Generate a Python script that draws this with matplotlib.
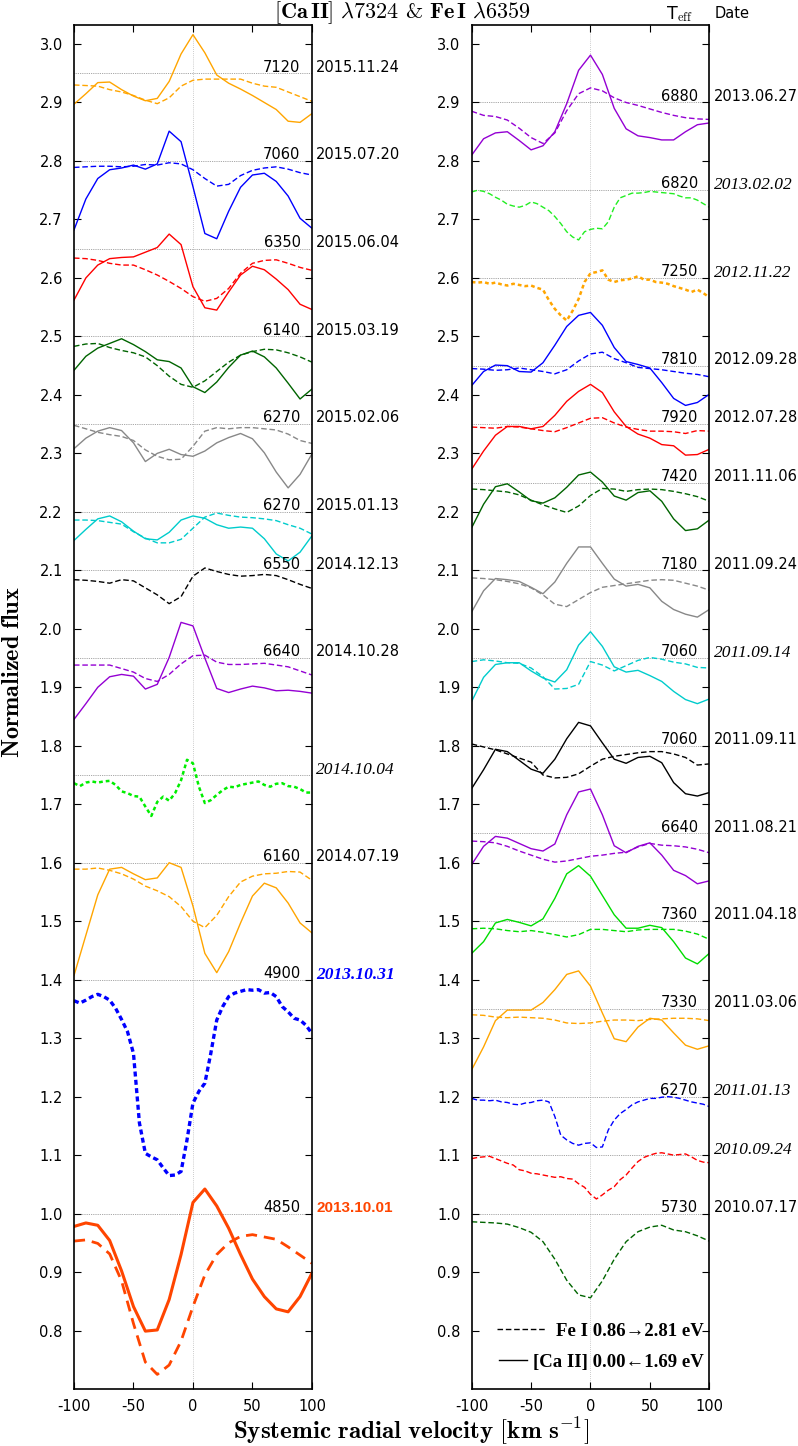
import matplotlib
matplotlib.use('Agg')
import matplotlib.pyplot as plt
from matplotlib.lines import Line2D

plt.rcParams['font.family'] = ['DejaVu Sans']
plt.rcParams['mathtext.fontset'] = 'cm'

# velocity grids (km/s)
v = [-100, -90, -80, -70, -60, -50, -40, -30, -20, -10, 0,
     10, 20, 30, 40, 50, 60, 70, 80, 90, 100]
v5 = [-100, -95, -90, -85, -80, -75, -70, -65, -60, -55, -50, -45, -40, -35,
      -30, -25, -20, -15, -10, -5, 0, 5, 10, 15, 20, 25, 30, 35, 40, 45, 50,
      55, 60, 65, 70, 75, 80, 85, 90, 95, 100]

# ---- left column ----
ca_151124 = [2.897, 2.915, 2.934, 2.935, 2.922, 2.911, 2.903, 2.907, 2.936, 2.983, 3.016,
             2.985, 2.947, 2.933, 2.923, 2.912, 2.900, 2.888, 2.868, 2.866, 2.881]
fe_151124 = [2.930, 2.929, 2.928, 2.922, 2.918, 2.912, 2.904, 2.898, 2.908, 2.928, 2.938,
             2.940, 2.940, 2.940, 2.940, 2.933, 2.928, 2.926, 2.918, 2.910, 2.902]
ca_150720 = [2.682, 2.735, 2.770, 2.785, 2.788, 2.793, 2.786, 2.795, 2.851, 2.833, 2.756,
             2.676, 2.667, 2.714, 2.755, 2.776, 2.779, 2.765, 2.740, 2.702, 2.685]
fe_150720 = [2.789, 2.790, 2.791, 2.791, 2.790, 2.791, 2.794, 2.793, 2.797, 2.795, 2.785,
             2.770, 2.757, 2.760, 2.775, 2.784, 2.788, 2.790, 2.786, 2.780, 2.776]
ca_150604 = [2.562, 2.600, 2.622, 2.633, 2.635, 2.636, 2.644, 2.652, 2.675, 2.657, 2.585,
             2.549, 2.545, 2.576, 2.605, 2.620, 2.614, 2.598, 2.580, 2.555, 2.546]
fe_150604 = [2.634, 2.633, 2.630, 2.625, 2.622, 2.622, 2.614, 2.605, 2.594, 2.582, 2.568,
             2.560, 2.565, 2.582, 2.608, 2.625, 2.630, 2.631, 2.625, 2.618, 2.613]
ca_150319 = [2.442, 2.466, 2.480, 2.488, 2.496, 2.486, 2.474, 2.460, 2.457, 2.446, 2.414,
             2.404, 2.422, 2.447, 2.468, 2.475, 2.465, 2.446, 2.420, 2.393, 2.410]
fe_150319 = [2.483, 2.487, 2.488, 2.481, 2.476, 2.472, 2.465, 2.450, 2.432, 2.418, 2.413,
             2.424, 2.440, 2.456, 2.468, 2.474, 2.478, 2.477, 2.472, 2.465, 2.456]
ca_150206 = [2.308, 2.326, 2.338, 2.344, 2.339, 2.318, 2.286, 2.300, 2.307, 2.298, 2.295,
             2.304, 2.318, 2.327, 2.334, 2.325, 2.301, 2.268, 2.241, 2.264, 2.299]
fe_150206 = [2.348, 2.342, 2.336, 2.332, 2.329, 2.322, 2.306, 2.295, 2.289, 2.290, 2.312,
             2.338, 2.344, 2.342, 2.344, 2.344, 2.342, 2.340, 2.333, 2.322, 2.317]
ca_150113 = [2.151, 2.170, 2.188, 2.193, 2.183, 2.167, 2.154, 2.152, 2.165, 2.186, 2.193,
             2.189, 2.178, 2.172, 2.174, 2.172, 2.154, 2.128, 2.116, 2.131, 2.159]
fe_150113 = [2.186, 2.186, 2.185, 2.182, 2.179, 2.166, 2.155, 2.147, 2.147, 2.153, 2.172,
             2.191, 2.198, 2.194, 2.191, 2.190, 2.188, 2.185, 2.178, 2.172, 2.162]
fe_141213 = [2.084, 2.083, 2.081, 2.078, 2.084, 2.082, 2.070, 2.058, 2.043, 2.055, 2.090,
             2.104, 2.098, 2.093, 2.090, 2.091, 2.093, 2.091, 2.084, 2.076, 2.069]
ca_141028 = [1.845, 1.872, 1.900, 1.918, 1.922, 1.919, 1.897, 1.905, 1.951, 2.011, 2.005,
             1.950, 1.898, 1.891, 1.897, 1.902, 1.899, 1.894, 1.895, 1.893, 1.890]
fe_141028 = [1.938, 1.938, 1.938, 1.938, 1.932, 1.926, 1.915, 1.910, 1.922, 1.940, 1.954,
             1.955, 1.943, 1.939, 1.939, 1.940, 1.941, 1.938, 1.935, 1.928, 1.921]
fe_141004 = [1.736, 1.731, 1.737, 1.739, 1.737, 1.739, 1.740, 1.733, 1.722, 1.719, 1.714,
             1.713, 1.696, 1.680, 1.704, 1.713, 1.706, 1.719, 1.741, 1.776, 1.770,
             1.730, 1.702, 1.707, 1.716, 1.724, 1.730, 1.729, 1.733, 1.735, 1.737,
             1.739, 1.733, 1.730, 1.735, 1.736, 1.731, 1.730, 1.726, 1.720, 1.720]
ca_140719 = [1.407, 1.476, 1.545, 1.589, 1.592, 1.581, 1.571, 1.574, 1.600, 1.592, 1.526,
             1.445, 1.412, 1.448, 1.497, 1.543, 1.565, 1.557, 1.531, 1.497, 1.480]
fe_140719 = [1.589, 1.589, 1.591, 1.587, 1.581, 1.572, 1.560, 1.552, 1.542, 1.525, 1.500,
             1.489, 1.510, 1.542, 1.567, 1.577, 1.581, 1.582, 1.585, 1.584, 1.570]
fe_131031 = [1.364, 1.360, 1.365, 1.371, 1.375, 1.371, 1.365, 1.351, 1.332, 1.311, 1.274,
             1.155, 1.103, 1.097, 1.092, 1.078, 1.065, 1.066, 1.072, 1.126, 1.189,
             1.209, 1.223, 1.274, 1.331, 1.354, 1.371, 1.377, 1.380, 1.383, 1.382,
             1.383, 1.377, 1.378, 1.371, 1.354, 1.345, 1.334, 1.331, 1.322, 1.308]
ca_131001 = [0.978, 0.984, 0.980, 0.954, 0.902, 0.841, 0.799, 0.801, 0.853, 0.930, 1.019,
             1.042, 1.013, 0.975, 0.930, 0.888, 0.858, 0.837, 0.832, 0.858, 0.898]
fe_131001 = [0.953, 0.955, 0.949, 0.931, 0.885, 0.812, 0.746, 0.725, 0.741, 0.782, 0.841,
             0.895, 0.930, 0.950, 0.961, 0.964, 0.960, 0.956, 0.943, 0.929, 0.915]

# ---- right column ----
ca_130627 = [2.810, 2.838, 2.848, 2.850, 2.835, 2.819, 2.826, 2.850, 2.898, 2.955, 2.981,
             2.948, 2.890, 2.855, 2.843, 2.840, 2.836, 2.836, 2.850, 2.862, 2.865]
fe_130627 = [2.885, 2.878, 2.876, 2.870, 2.856, 2.840, 2.830, 2.848, 2.886, 2.915, 2.925,
             2.920, 2.908, 2.900, 2.895, 2.889, 2.883, 2.878, 2.874, 2.872, 2.871]
fe_130202 = [2.747, 2.750, 2.748, 2.744, 2.738, 2.733, 2.726, 2.723, 2.721, 2.724, 2.730,
             2.727, 2.721, 2.715, 2.705, 2.693, 2.679, 2.670, 2.665, 2.679, 2.683,
             2.685, 2.684, 2.696, 2.721, 2.737, 2.741, 2.745, 2.745, 2.746, 2.748,
             2.747, 2.746, 2.745, 2.744, 2.740, 2.737, 2.737, 2.733, 2.727, 2.721]
fe_121122 = [2.593, 2.592, 2.593, 2.590, 2.592, 2.589, 2.587, 2.590, 2.588, 2.586, 2.587,
             2.583, 2.580, 2.562, 2.547, 2.536, 2.527, 2.544, 2.564, 2.593, 2.608,
             2.610, 2.613, 2.597, 2.593, 2.596, 2.597, 2.599, 2.603, 2.597, 2.597,
             2.593, 2.592, 2.590, 2.586, 2.583, 2.580, 2.576, 2.580, 2.574, 2.567]
ca_120928 = [2.416, 2.440, 2.451, 2.450, 2.440, 2.439, 2.455, 2.485, 2.517, 2.536, 2.541,
             2.519, 2.481, 2.457, 2.452, 2.446, 2.421, 2.394, 2.382, 2.387, 2.401]
fe_120928 = [2.445, 2.444, 2.442, 2.443, 2.446, 2.443, 2.440, 2.436, 2.443, 2.458, 2.470,
             2.473, 2.462, 2.455, 2.447, 2.445, 2.443, 2.440, 2.437, 2.435, 2.431]
ca_120728 = [2.273, 2.304, 2.331, 2.346, 2.346, 2.342, 2.346, 2.365, 2.389, 2.406, 2.418,
             2.404, 2.371, 2.346, 2.333, 2.326, 2.315, 2.313, 2.297, 2.298, 2.307]
fe_120728 = [2.345, 2.344, 2.343, 2.346, 2.345, 2.342, 2.339, 2.337, 2.344, 2.352, 2.360,
             2.361, 2.352, 2.345, 2.341, 2.338, 2.338, 2.337, 2.334, 2.339, 2.338]
ca_111106 = [2.173, 2.213, 2.243, 2.248, 2.234, 2.219, 2.215, 2.224, 2.242, 2.263, 2.268,
             2.251, 2.227, 2.220, 2.233, 2.236, 2.218, 2.188, 2.168, 2.171, 2.186]
fe_111106 = [2.239, 2.238, 2.236, 2.234, 2.229, 2.220, 2.212, 2.205, 2.199, 2.210, 2.228,
             2.240, 2.239, 2.235, 2.238, 2.239, 2.238, 2.235, 2.231, 2.226, 2.218]
ca_110924 = [2.029, 2.065, 2.086, 2.084, 2.081, 2.071, 2.060, 2.080, 2.112, 2.140, 2.140,
             2.112, 2.085, 2.073, 2.076, 2.070, 2.047, 2.033, 2.025, 2.020, 2.033]
fe_110924 = [2.087, 2.086, 2.084, 2.081, 2.077, 2.070, 2.058, 2.042, 2.038, 2.050, 2.062,
             2.071, 2.074, 2.077, 2.080, 2.083, 2.084, 2.083, 2.078, 2.073, 2.066]
ca_110914 = [1.876, 1.917, 1.939, 1.942, 1.942, 1.928, 1.916, 1.909, 1.930, 1.972, 1.995,
             1.970, 1.935, 1.926, 1.929, 1.920, 1.910, 1.893, 1.879, 1.872, 1.880]
fe_110914 = [1.944, 1.947, 1.945, 1.942, 1.941, 1.933, 1.918, 1.897, 1.898, 1.905, 1.944,
             1.938, 1.928, 1.937, 1.946, 1.951, 1.948, 1.943, 1.940, 1.934, 1.933]
ca_110911 = [1.727, 1.759, 1.794, 1.790, 1.775, 1.760, 1.753, 1.777, 1.812, 1.840, 1.834,
             1.805, 1.777, 1.770, 1.780, 1.782, 1.771, 1.737, 1.718, 1.714, 1.720]
fe_110911 = [1.803, 1.798, 1.793, 1.786, 1.779, 1.772, 1.750, 1.745, 1.746, 1.752, 1.765,
             1.777, 1.782, 1.785, 1.788, 1.790, 1.790, 1.786, 1.780, 1.767, 1.769]
ca_110821 = [1.597, 1.628, 1.645, 1.642, 1.633, 1.624, 1.620, 1.632, 1.682, 1.721, 1.726,
             1.682, 1.629, 1.617, 1.628, 1.634, 1.613, 1.587, 1.578, 1.564, 1.569]
fe_110821 = [1.637, 1.636, 1.634, 1.628, 1.620, 1.613, 1.606, 1.601, 1.603, 1.607, 1.611,
             1.613, 1.616, 1.618, 1.627, 1.633, 1.630, 1.629, 1.627, 1.623, 1.617]
ca_110418 = [1.445, 1.465, 1.497, 1.503, 1.498, 1.492, 1.504, 1.539, 1.581, 1.595, 1.577,
             1.544, 1.511, 1.488, 1.488, 1.493, 1.489, 1.465, 1.437, 1.427, 1.445]
fe_110418 = [1.487, 1.488, 1.487, 1.484, 1.482, 1.484, 1.481, 1.477, 1.473, 1.477, 1.486,
             1.486, 1.484, 1.482, 1.485, 1.486, 1.486, 1.486, 1.483, 1.478, 1.469]
ca_110306 = [1.246, 1.285, 1.330, 1.348, 1.348, 1.348, 1.361, 1.383, 1.409, 1.415, 1.389,
             1.343, 1.299, 1.294, 1.319, 1.334, 1.331, 1.309, 1.288, 1.281, 1.287]
fe_110306 = [1.340, 1.339, 1.336, 1.335, 1.336, 1.335, 1.334, 1.331, 1.326, 1.325, 1.326,
             1.329, 1.331, 1.331, 1.330, 1.332, 1.333, 1.334, 1.334, 1.333, 1.330]
fe_110113 = [1.197, 1.194, 1.194, 1.193, 1.194, 1.191, 1.190, 1.187, 1.186, 1.189, 1.190,
             1.193, 1.194, 1.191, 1.166, 1.134, 1.126, 1.120, 1.117, 1.120, 1.121,
             1.113, 1.114, 1.143, 1.160, 1.171, 1.178, 1.186, 1.191, 1.194, 1.197,
             1.197, 1.199, 1.200, 1.199, 1.197, 1.194, 1.191, 1.189, 1.187, 1.183]
fe_100924 = [1.094, 1.096, 1.097, 1.098, 1.094, 1.090, 1.086, 1.083, 1.075, 1.073, 1.069,
             1.068, 1.066, 1.064, 1.062, 1.063, 1.060, 1.059, 1.051, 1.045, 1.033,
             1.025, 1.032, 1.040, 1.046, 1.058, 1.066, 1.078, 1.089, 1.096, 1.100,
             1.103, 1.104, 1.102, 1.100, 1.101, 1.102, 1.097, 1.091, 1.088, 1.087]
fe_100717 = [0.986, 0.985, 0.984, 0.982, 0.976, 0.968, 0.952, 0.922, 0.886, 0.861, 0.856,
             0.885, 0.922, 0.952, 0.969, 0.977, 0.980, 0.972, 0.969, 0.962, 0.953]

# dates, Teff and offset level of each spectrum
left_dates = ['2015.11.24', '2015.07.20', '2015.06.04', '2015.03.19', '2015.02.06',
              '2015.01.13', '2014.12.13', '2014.10.28', '2014.10.04', '2014.07.19',
              '2013.10.31', '2013.10.01']
left_teff = ['7120', '7060', '6350', '6140', '6270', '6270', '6550', '6640', '',
             '6160', '4900', '4850']
left_level = [2.95, 2.80, 2.65, 2.50, 2.35, 2.20, 2.10, 1.95, 1.75, 1.60, 1.40, 1.00]

right_dates = ['2013.06.27', '2013.02.02', '2012.11.22', '2012.09.28', '2012.07.28',
               '2011.11.06', '2011.09.24', '2011.09.14', '2011.09.11', '2011.08.21',
               '2011.04.18', '2011.03.06', '2011.01.13', '2010.09.24', '2010.07.17']
right_teff = ['6880', '6820', '7250', '7810', '7920', '7420', '7180', '7060', '7060',
              '6640', '7360', '7330', '6270', '', '5730']
right_level = [2.90, 2.75, 2.60, 2.45, 2.35, 2.25, 2.10, 1.95, 1.80, 1.65, 1.50, 1.35,
               1.20, 1.10, 1.00]

legend_labels = ['Fe I 0.86\u21922.81 eV', '[Ca II] 0.00\u21901.69 eV']

# per-spectrum drawing table: (ca, fe, fe grid, colour, fe style, date style)
left_rows = [
    (ca_151124, fe_151124, v, '#ffa500', 'dash', 'n'),
    (ca_150720, fe_150720, v, '#0000ff', 'dash', 'n'),
    (ca_150604, fe_150604, v, '#ff0000', 'dash', 'n'),
    (ca_150319, fe_150319, v, '#006400', 'dash', 'n'),
    (ca_150206, fe_150206, v, '#888888', 'dash', 'n'),
    (ca_150113, fe_150113, v, '#00cccc', 'dash', 'n'),
    (None, fe_141213, v, '#000000', 'dash', 'n'),
    (ca_141028, fe_141028, v, '#9400d3', 'dash', 'n'),
    (None, fe_141004, v5, '#00ee00', 'dot', 'i'),
    (ca_140719, fe_140719, v, '#ffa500', 'dash', 'n'),
    (None, fe_131031, v5, '#0000ff', 'thickdot', 'bi'),
    (ca_131001, fe_131001, v, '#ff4500', 'thick', 'b'),
]
right_rows = [
    (ca_130627, fe_130627, v, '#9400d3', 'dash', 'n'),
    (None, fe_130202, v5, '#22ee22', 'dash', 'i'),
    (None, fe_121122, v5, '#ffa500', 'dot', 'i'),
    (ca_120928, fe_120928, v, '#0000ff', 'dash', 'n'),
    (ca_120728, fe_120728, v, '#ff0000', 'dash', 'n'),
    (ca_111106, fe_111106, v, '#006400', 'dash', 'n'),
    (ca_110924, fe_110924, v, '#888888', 'dash', 'n'),
    (ca_110914, fe_110914, v, '#00cccc', 'dash', 'i'),
    (ca_110911, fe_110911, v, '#000000', 'dash', 'n'),
    (ca_110821, fe_110821, v, '#9400d3', 'dash', 'n'),
    (ca_110418, fe_110418, v, '#00dd00', 'dash', 'n'),
    (ca_110306, fe_110306, v, '#ffa500', 'dash', 'n'),
    (None, fe_110113, v5, '#0000ff', 'dash', 'i'),
    (None, fe_100924, v5, '#ff0000', 'dash', 'i'),
    (None, fe_100717, v, '#006400', 'dash', 'n'),
]

fig = plt.figure(figsize=(7.98, 14.46), dpi=100)
ax1 = fig.add_axes([0.0927, 0.0394, 0.2982, 0.9433])
ax2 = fig.add_axes([0.5911, 0.0394, 0.2977, 0.9433])


def draw_panel(ax, rows, dates, teffs, levels):
    ax.axvline(0, color='#bbbbbb', lw=0.6, ls=(0, (1, 1.5)), zorder=0)
    for (ca, fe, vg, col, fst, dst), date, teff, lev in zip(rows, dates, teffs, levels):
        ax.axhline(lev, color='#888888', lw=0.6, ls=(0, (1, 1.2)), zorder=0)
        if fst == 'dash':
            ax.plot(vg, fe, color=col, lw=1.0, dashes=(4, 2))
        elif fst == 'dot':
            ax.plot(vg, fe, color=col, lw=1.8, dashes=(1.5, 1.2))
        elif fst == 'thickdot':
            ax.plot(vg, fe, color=col, lw=2.4, dashes=(1.5, 1.0))
        else:
            ax.plot(vg, fe, color=col, lw=2.0, dashes=(4, 2.5))
        if ca is not None:
            ax.plot(v, ca, color=col, lw=2.2 if fst == 'thick' else 1.0)
        if teff:
            ax.text(0.952, lev + 0.003, teff, transform=ax.get_yaxis_transform(),
                    ha='right', va='baseline', fontsize=10.5, color='black')
        tr = ax.get_yaxis_transform()
        if dst == 'n':
            ax.text(1.018, lev + 0.003, date, transform=tr, ha='left',
                    va='baseline', fontsize=10.5, clip_on=False)
        elif dst == 'i':
            ax.text(1.018, lev + 0.002, date, transform=tr, ha='left', va='baseline',
                    fontsize=12.5, family='Liberation Serif', style='italic',
                    clip_on=False)
        elif dst == 'bi':
            ax.text(1.018, lev + 0.002, date, transform=tr, ha='left', va='baseline',
                    fontsize=12.5, family='Liberation Serif', style='italic',
                    weight='bold', color=col, clip_on=False)
        else:
            ax.text(1.018, lev + 0.003, date, transform=tr, ha='left', va='baseline',
                    fontsize=11, family='Liberation Sans', weight='bold', color=col,
                    clip_on=False)

    ax.set_xlim(-100, 100)
    ax.set_ylim(0.70, 3.0325)
    ax.set_xticks([-100, -50, 0, 50, 100])
    ax.set_xticklabels(['-100', '-50', '0', '50', '100'])
    yt = [0.8, 0.9, 1.0, 1.1, 1.2, 1.3, 1.4, 1.5, 1.6, 1.7, 1.8, 1.9,
          2.0, 2.1, 2.2, 2.3, 2.4, 2.5, 2.6, 2.7, 2.8, 2.9, 3.0]
    ax.set_yticks(yt)
    ax.set_yticklabels(['%.1f' % t for t in yt])
    ax.tick_params(direction='in', length=5, width=0.8, top=True, right=True,
                   labelsize=10.5)
    ax.tick_params(axis='y', pad=8)
    ax.tick_params(axis='x', pad=7)
    for s in ax.spines.values():
        s.set_linewidth(1.2)


draw_panel(ax1, left_rows, left_dates, left_teff, left_level)
draw_panel(ax2, right_rows, right_dates, right_teff, right_level)

# two one-entry legends so both labels end at the same right edge
lprop = {'family': ['Liberation Serif', 'DejaVu Serif'], 'weight': 'bold', 'size': 13.5}
leg1 = ax2.legend([Line2D([], [], color='black', lw=1.0, dashes=(4, 2))],
                  [legend_labels[0]], loc='center right',
                  bbox_to_anchor=(0.975, 0.0425), frameon=False, borderpad=0,
                  borderaxespad=0, handlelength=2.55, handletextpad=0.55, prop=lprop)
ax2.add_artist(leg1)
ax2.legend([Line2D([], [], color='black', lw=1.0)], [legend_labels[1]],
           loc='center right', bbox_to_anchor=(0.975, 0.0198), frameon=False,
           borderpad=0, borderaxespad=0, handlelength=1.5, handletextpad=0.3,
           prop=lprop)

fig.text(0.504, 0.9913,
         r'$\mathbf{[Ca\,II]}\ \lambda\mathbf{7324}$' + r' $\mathbf{&}$ '
         + r'$\mathbf{Fe\,I}\ \lambda\mathbf{6359}$',
         ha='center', va='center', fontsize=16, family='DejaVu Serif')
fig.text(0.852, 0.9905, r'T$_{\mathrm{eff}}$', ha='center', va='center', fontsize=12.5)
fig.text(0.918, 0.9905, 'Date', ha='center', va='center', fontsize=10.5)
fig.text(0.015, 0.535, r'$\mathbf{Normalized\ flux}$', rotation=90,
         ha='center', va='center', fontsize=17.5)
fig.text(0.515, 0.0105,
         r'$\mathbf{Systemic\ radial\ velocity\ [km\ s}^{-1}\mathbf{]}$',
         ha='center', va='center', fontsize=18)

fig.savefig('out.png', dpi=100)
